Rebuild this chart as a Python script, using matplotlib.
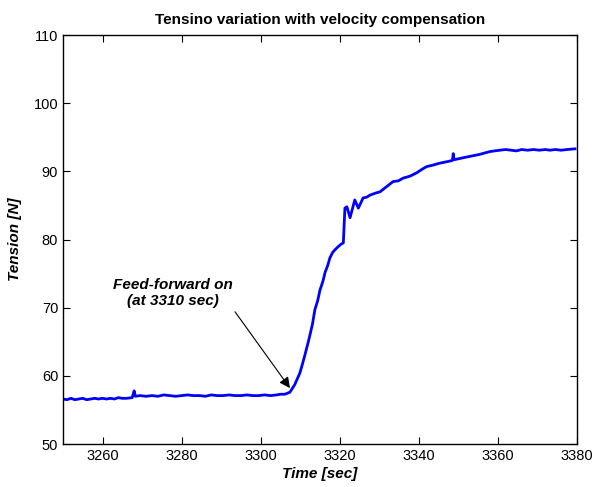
import matplotlib
matplotlib.use("Agg")
import matplotlib.pyplot as plt

plt.rcParams["font.family"] = ["Liberation Sans", "DejaVu Sans"]

# tension trace (time in sec, tension in N)
time_s = [3250.0, 3251.0, 3252.0, 3253.0, 3254.0, 3255.0, 3256.0, 3257.0, 3258.0, 3259.0,
          3260.0, 3261.0, 3262.0, 3263.0, 3264.0, 3265.0, 3266.0, 3267.5,
          3268.0, 3268.3, 3269.5, 3271.0, 3272.5, 3274.0, 3275.5, 3277.0, 3278.5, 3280.0,
          3281.5, 3283.0, 3284.6, 3286.0, 3287.5, 3289.0, 3290.5, 3292.0, 3293.5, 3295.0,
          3296.5, 3298.0, 3299.5, 3301.0, 3302.5, 3304.0, 3305.0, 3306.1, 3307.4, 3308.6,
          3309.9, 3310.5, 3311.2, 3312.0, 3312.5, 3313.1, 3313.7, 3314.4, 3315.0, 3315.7,
          3316.3, 3316.9, 3317.5, 3318.2, 3318.8, 3319.5, 3320.3, 3320.9, 3321.3, 3321.8,
          3322.6, 3323.8, 3324.7, 3325.9, 3326.8, 3327.6, 3329.0, 3330.2, 3331.5, 3333.5,
          3334.8, 3336.0, 3337.8, 3339.5, 3340.8, 3342.0, 3343.5, 3345.3, 3347.0, 3348.5,
          3348.7, 3348.9, 3350.5, 3352.1, 3353.8, 3355.5, 3356.7, 3358.0, 3359.2, 3360.5,
          3362.0, 3363.3, 3364.7, 3366.0, 3367.5, 3369.0, 3370.5, 3372.0, 3373.2, 3374.5,
          3376.0, 3377.5, 3379.5]
tension_n = [56.6, 56.5, 56.7, 56.5, 56.6, 56.7, 56.5, 56.6, 56.7, 56.6,
             56.7, 56.6, 56.7, 56.6, 56.8, 56.7, 56.7, 56.8,
             57.8, 57.0, 57.1, 57.0, 57.1, 57.0, 57.2, 57.1, 57.0, 57.1,
             57.2, 57.1, 57.1, 57.0, 57.2, 57.1, 57.1, 57.2, 57.1, 57.1,
             57.2, 57.1, 57.1, 57.2, 57.1, 57.2, 57.3, 57.3, 57.6, 58.7,
             60.4, 61.6, 63.1, 64.9, 66.1, 67.6, 69.7, 71.0, 72.6, 73.8,
             75.2, 76.1, 77.3, 78.1, 78.5, 78.9, 79.3, 79.5, 84.6, 84.8,
             83.2, 85.8, 84.6, 86.1, 86.2, 86.5, 86.8, 87.0, 87.6, 88.5,
             88.6, 89.0, 89.3, 89.8, 90.3, 90.7, 90.9, 91.2, 91.4, 91.6,
             92.6, 91.7, 91.9, 92.1, 92.3, 92.5, 92.7, 92.9, 93.0, 93.1,
             93.2, 93.1, 93.0, 93.2, 93.1, 93.2, 93.1, 93.2, 93.1, 93.2,
             93.1, 93.2, 93.3]

x_ticks = [3260, 3280, 3300, 3320, 3340, 3360, 3380]
y_ticks = [50, 60, 70, 80, 90, 100, 110]

fig = plt.figure(figsize=(5.96, 4.87), dpi=100)
ax = fig.add_axes([63 / 596, 1 - 444 / 487, 514 / 596, 409 / 487])

ax.plot(time_s, tension_n, color="#0000ff", lw=2)

ax.text(3277.8, 72.2, "Feed-forward on\n(at 3310 sec)", ha="center", va="center",
        fontsize=11, fontweight="bold", style="italic")
ax.annotate("", xy=(3307.4, 58.2), xytext=(3293.5, 69.4),
            arrowprops=dict(arrowstyle="-|>", color="black", lw=0.8,
                            mutation_scale=16, shrinkA=0, shrinkB=0))

ax.set_xlim(3250, 3380)
ax.set_ylim(50, 110)
ax.set_xticks(x_ticks)
ax.set_yticks(y_ticks)
ax.tick_params(direction="in", top=True, right=True, labelsize=10.5, length=5)
for s in ax.spines.values():
    s.set_linewidth(1.0)

ax.set_title("Tensino variation with velocity compensation", fontsize=11, fontweight="bold", pad=8)
ax.set_xlabel("Time [sec]", fontsize=11, fontweight="bold", style="italic", labelpad=3)
ax.set_ylabel("Tension [N]", fontsize=11, fontweight="bold", style="italic", labelpad=8)

fig.savefig("out.png", dpi=100)
